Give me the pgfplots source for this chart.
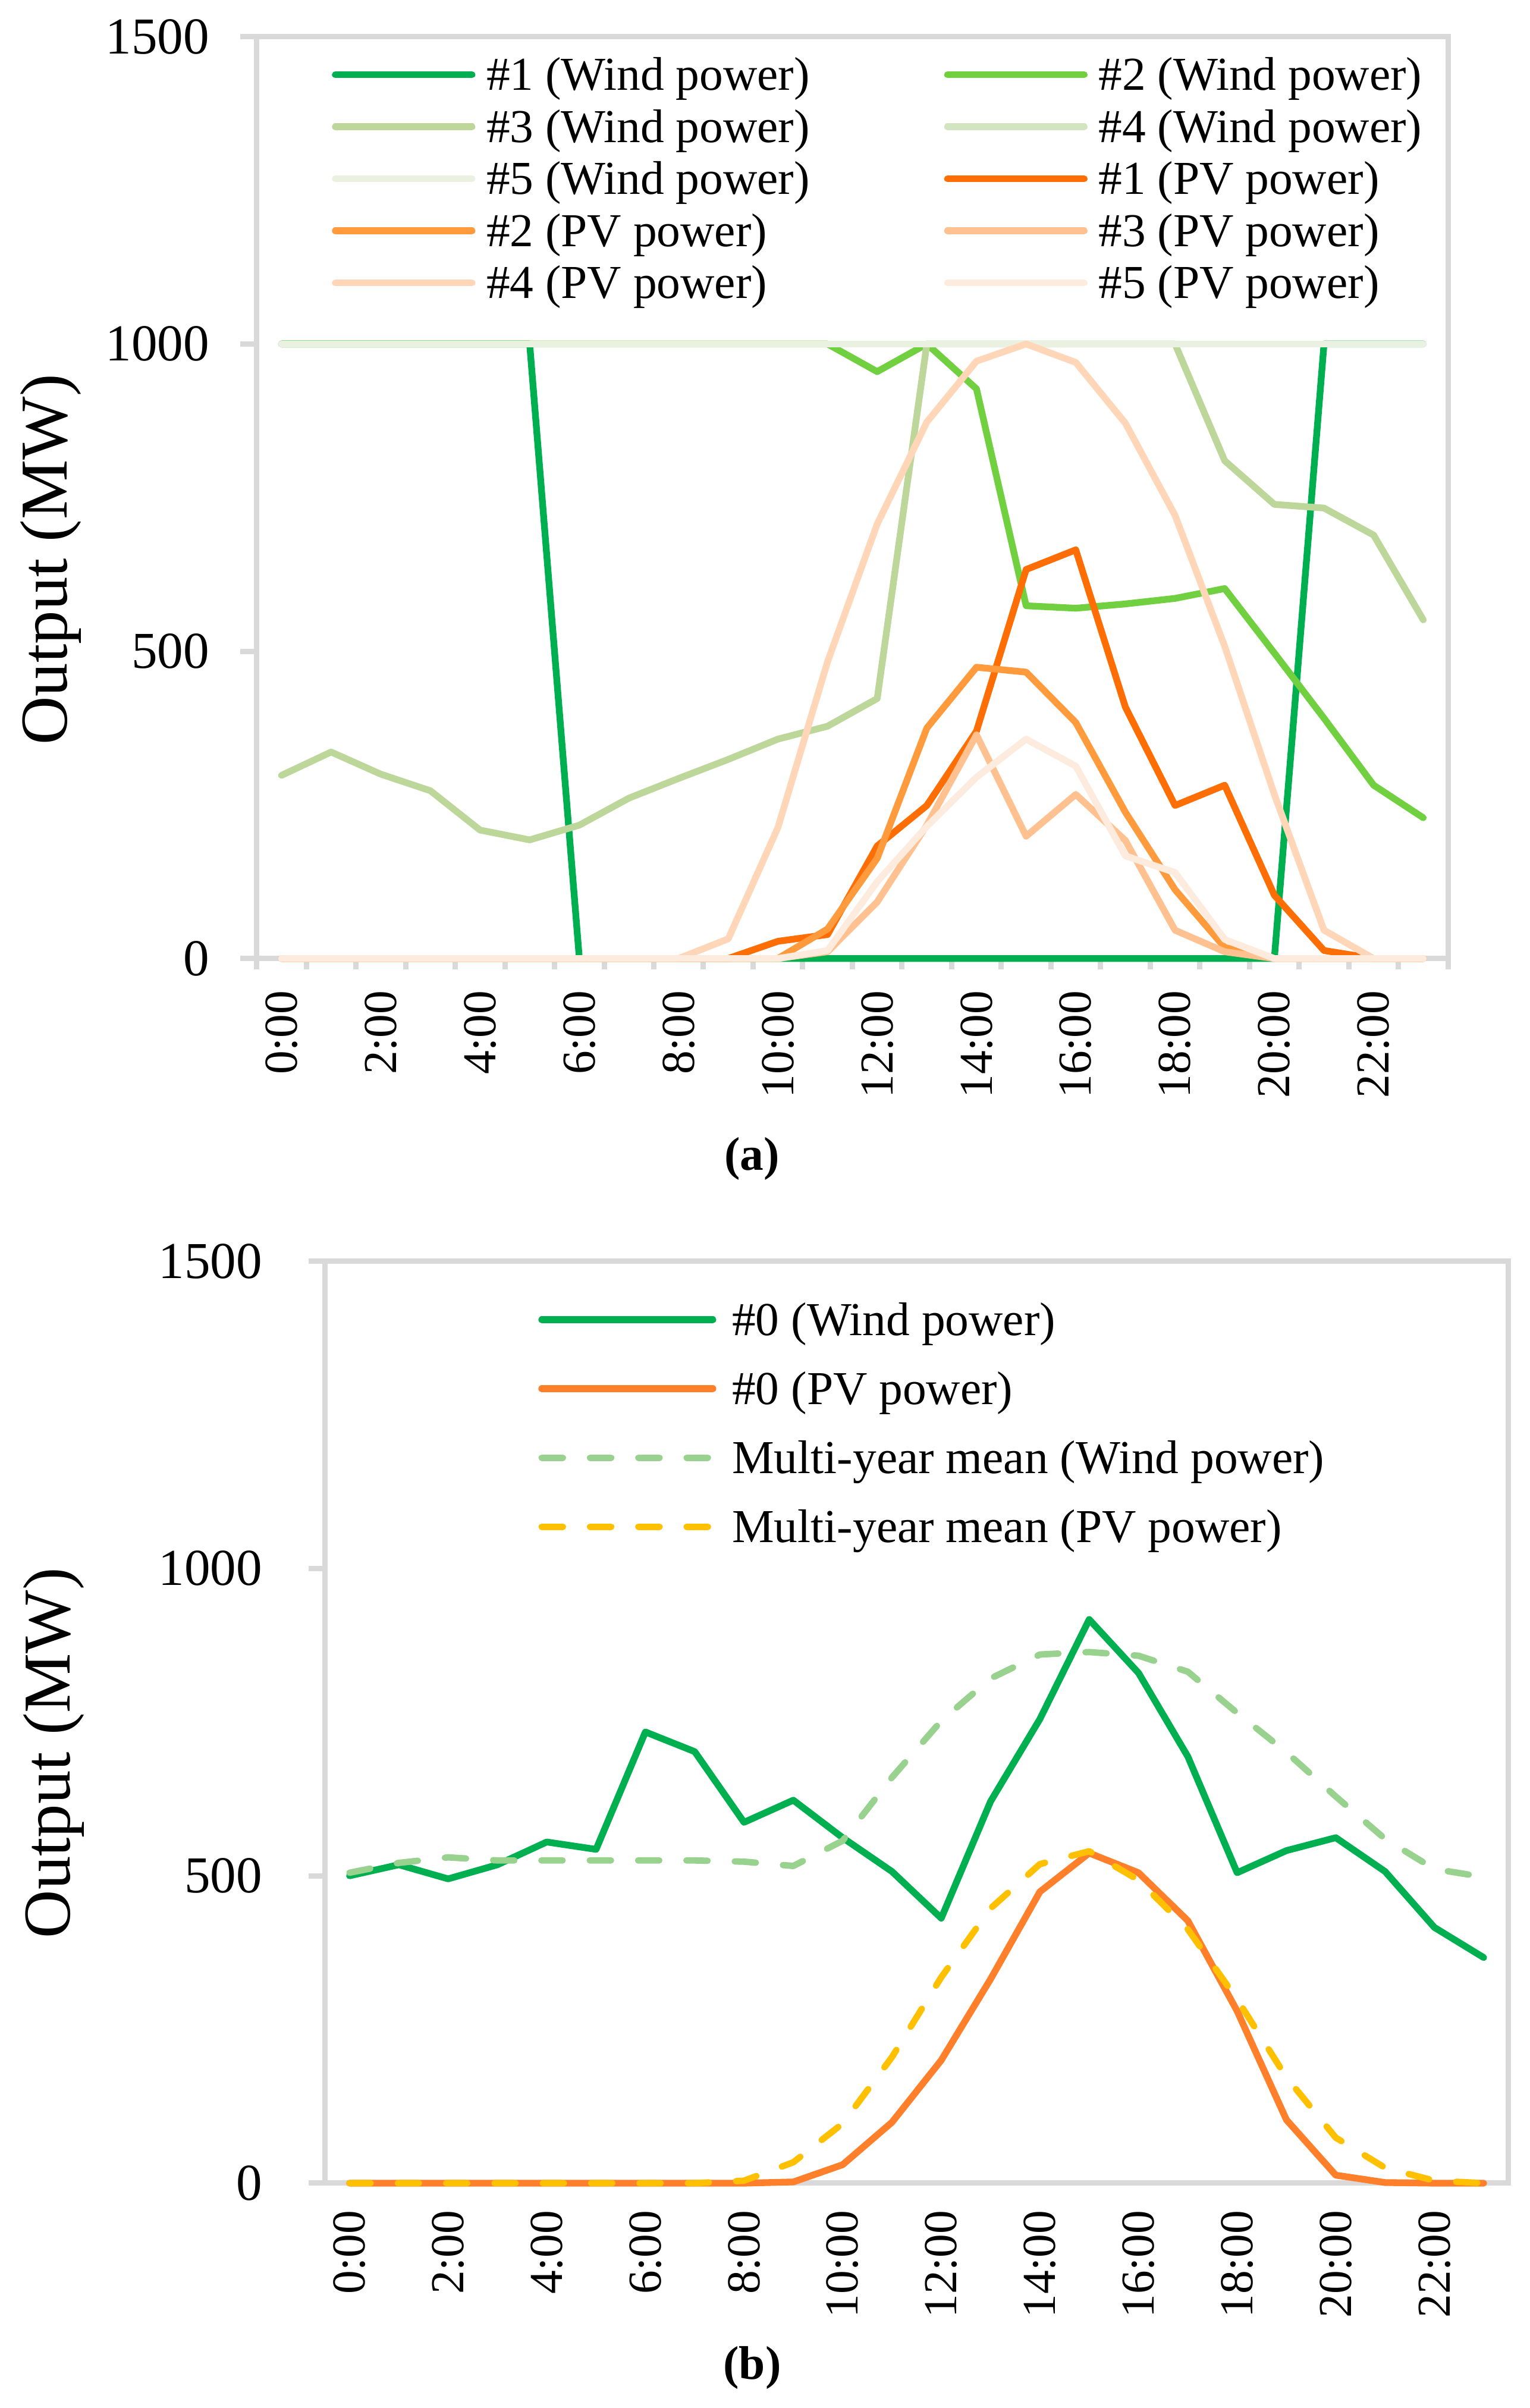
\documentclass[border=0pt]{standalone}
\usepackage{fontspec}
\setmainfont{Liberation Serif}
\usepackage{pgfplots}
\usepackage{pgfplotstable}
\pgfplotsset{compat=1.18}

\definecolor{gridgray}{HTML}{D9D9D9}
\definecolor{wA}{HTML}{00B050}
\definecolor{wB}{HTML}{70D040}
\definecolor{wC}{HTML}{BDD79B}
\definecolor{wD}{HTML}{D3E5C0}
\definecolor{wE}{HTML}{EBF1E0}
\definecolor{pA}{HTML}{FF6D05}
\definecolor{pB}{HTML}{FF9B3C}
\definecolor{pC}{HTML}{FFC18F}
\definecolor{pD}{HTML}{FFD7B8}
\definecolor{pE}{HTML}{FDEBDD}
\definecolor{pvzero}{HTML}{FF7F2A}
\definecolor{meanwind}{HTML}{99D18F}
\definecolor{meanpv}{HTML}{FFC000}

\pgfplotstableread{
h  W1   W2   W3   W4   W5   P1  P2  P3  P4   P5
0  1000 1000 298  1000 1000 0   0   0   0    0
1  1000 1000 336  1000 1000 0   0   0   0    0
2  1000 1000 300  1000 1000 0   0   0   0    0
3  1000 1000 273  1000 1000 0   0   0   0    0
4  1000 1000 209  1000 1000 0   0   0   0    0
5  1000 1000 193  1000 1000 0   0   0   0    0
6  0    1000 217  1000 1000 0   0   0   0    0
7  0    1000 261  1000 1000 0   0   0   0    0
8  0    1000 293  1000 1000 0   0   0   0    0
9  0    1000 324  1000 1000 0   0   0   32   0
10 0    1000 357  1000 1000 28  0   0   213  0
11 0    1000 378  1000 1000 39  48  11  483  13
12 0    955  423  1000 1000 183 163 92  707  125
13 0    1000 1000 1000 1000 249 375 217 873  215
14 0    927  1000 1000 1000 370 474 364 972  295
15 0    574  1000 1000 1000 633 466 199 1000 357
16 0    570  1000 1000 1000 665 384 267 970  313
17 0    577  1000 1000 1000 409 238 192 871  167
18 0    586  1000 1000 1000 249 112 46  721  140
19 0    602  810  1000 1000 282 18  11  508  31
20 0    497  739  1000 1000 103 0   0   267  0
21 1000 391  733  1000 1000 13  0   0   46   0
22 1000 282  689  1000 1000 0   0   0   0    0
23 1000 229  551  1000 1000 0   0   0   0    0
}\tabA

\pgfplotstableread{
h  W0  PV0 MW  MPV
0  500 0   505 0
1  518 0   521 0
2  495 0   530 0
3  518 0   525 0
4  555 0   525 0
5  543 0   525 0
6  734 0   525 0
7  702 0   525 0
8  587 0   523 4
9  623 2   516 34
10 562 30  557 97
11 507 99  660 205
12 431 200 752 335
13 621 332 821 447
14 755 474 860 519
15 917 537 864 540
16 830 505 858 493
17 694 427 832 413
18 505 280 765 299
19 541 103 701 172
20 562 13  629 74
21 507 1   560 25
22 416 0   511 4
23 367 0   498 0
}\tabB

\pgfplotsset{
  panel/.style={
    scale only axis,
    clip=false,
    xmin=-0.5, xmax=23.5, ymin=0, ymax=1500,
    axis line style={draw=gridgray, line width=1.75bp},
    ytick={0,500,1000,1500},
    xtick={0,2,...,22},
    xticklabels={0:00,2:00,4:00,6:00,8:00,10:00,12:00,14:00,16:00,18:00,20:00,22:00},
    xtick pos=left, ytick pos=left,
    tick align=outside,
    major tick length=5.3bp,
    minor tick length=3.5bp,
    tick style={draw=gridgray, line width=1.75bp},
    every major x tick/.append style={draw=none},
    /pgf/number format/assume math mode=true,
    /pgf/number format/1000 sep={},
    yticklabel style={font=\fontsize{17}{20}\selectfont, anchor=east, inner sep=0pt},
    xticklabel style={font=\fontsize{15.5}{18}\selectfont, rotate=90, anchor=east, inner sep=0pt},
    ylabel={Output (MW)},
    ylabel style={font=\fontsize{22}{26}\selectfont, anchor=center, inner sep=0pt},
    legend cell align=left,
  },
  series/.style={line width=2.2bp, line join=round, line cap=round},
}

\begin{document}
\begin{tikzpicture}
\useasboundingbox (0,0) rectangle (500bp,-787.1bp);

% ---------------- panel (a)
\begin{axis}[panel,
  at={(83.9bp,-313.3bp)}, anchor=south west,
  width=389.5bp, height=301.3bp,
  minor xtick={-0.5,0.5,...,23.5},
  yticklabel shift=10bp,
  xticklabel shift=5bp,
  ylabel style={at={(axis description cs:-0.173,0.4328)}},
  legend columns=2,
  legend style={at={(0.0632,0.9774)}, anchor=north west, draw=none, fill=none,
    inner sep=0pt, outer sep=0pt, font=\fontsize{15.5}{18}\selectfont,
    row sep=4.8bp, nodes={inner sep=0pt},
    /tikz/every odd column/.append style={column sep=3.6bp},
    /tikz/every even column/.append style={column sep=43.9bp}},
  legend image code/.code={\draw[#1, line cap=round] (0bp,0.5bp) -- (44.7bp,0.5bp);},
]
\addplot[series, color=wA] table[x=h, y=W1] {\tabA};
\addlegendentry{\#1 (Wind power)}
\addplot[series, color=wB] table[x=h, y=W2] {\tabA};
\addlegendentry{\#2 (Wind power)}
\addplot[series, color=wC] table[x=h, y=W3] {\tabA};
\addlegendentry{\#3 (Wind power)}
\addplot[series, color=wD] table[x=h, y=W4] {\tabA};
\addlegendentry{\#4 (Wind power)}
\addplot[series, color=wE] table[x=h, y=W5] {\tabA};
\addlegendentry{\#5 (Wind power)}
\addplot[series, color=pA] table[x=h, y=P1] {\tabA};
\addlegendentry{\#1 (PV power)}
\addplot[series, color=pB] table[x=h, y=P2] {\tabA};
\addlegendentry{\#2 (PV power)}
\addplot[series, color=pC] table[x=h, y=P3] {\tabA};
\addlegendentry{\#3 (PV power)}
\addplot[series, color=pD] table[x=h, y=P4] {\tabA};
\addlegendentry{\#4 (PV power)}
\addplot[series, color=pE] table[x=h, y=P5] {\tabA};
\addlegendentry{\#5 (PV power)}
\end{axis}

\node[font=\bfseries\fontsize{15.5}{18}\selectfont, inner sep=0pt] at (245.8bp,-378.8bp) {(a)};

% ---------------- panel (b)
\begin{axis}[panel,
  at={(106.2bp,-713.6bp)}, anchor=south west,
  width=386.9bp, height=301.4bp,
  yticklabel shift=15bp,
  xticklabel shift=3.4bp,
  ylabel style={at={(axis description cs:-0.2293,0.4665)}},
  legend columns=1,
  legend style={at={(0.1804,0.955)}, anchor=north west, draw=none, fill=none,
    inner sep=0pt, outer sep=0pt, font=\fontsize{15.5}{18}\selectfont,
    row sep=10.35bp, nodes={inner sep=0pt},
    /tikz/every odd column/.append style={column sep=5.2bp}},
  legend image code/.code={\draw[#1, line cap=round] (1.05bp,0.5bp) -- (57bp,0.5bp);},
]
\addplot[series, color=wA] table[x=h, y=W0] {\tabB};
\addlegendentry{\#0 (Wind power)}
\addplot[series, color=pvzero] table[x=h, y=PV0] {\tabB};
\addlegendentry{\#0 (PV power)}
\addplot[series, line width=2.1bp, color=meanwind, dash pattern=on 6.9bp off 8.9bp] table[x=h, y=MW] {\tabB};
\addlegendentry{Multi-year mean (Wind power)}
\addplot[series, line width=2.1bp, color=meanpv, dash pattern=on 6.9bp off 8.9bp] table[x=h, y=MPV] {\tabB};
\addlegendentry{Multi-year mean (PV power)}
\end{axis}

\node[font=\bfseries\fontsize{15.5}{18}\selectfont, inner sep=0pt] at (245.9bp,-773.9bp) {(b)};
\end{tikzpicture}
\end{document}
